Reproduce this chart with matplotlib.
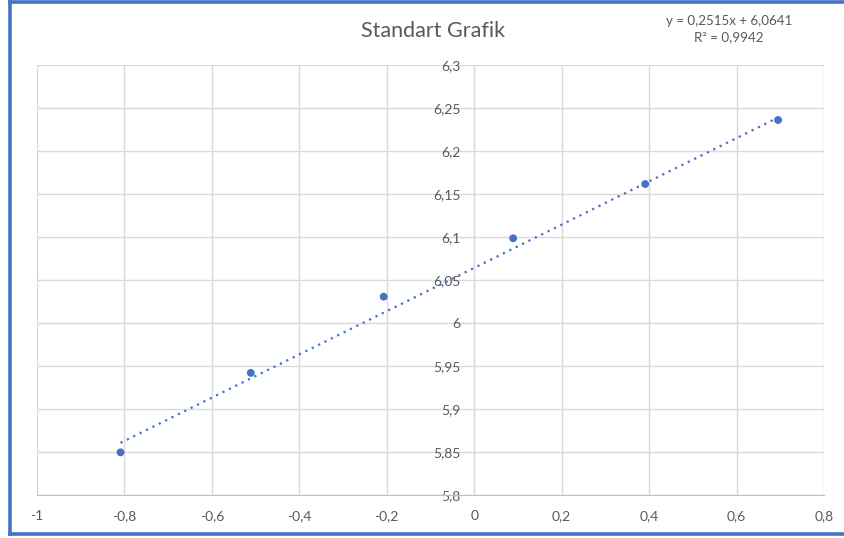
import matplotlib
matplotlib.use("Agg")
import matplotlib.pyplot as plt
import numpy as np
from matplotlib.lines import Line2D

x_vals = [-0.809, -0.511, -0.207, 0.089, 0.391, 0.695]
y_vals = [5.8496, 5.942, 6.0306, 6.0985, 6.1616, 6.236]
trend_slope = 0.2515
trend_intercept = 6.0641
x_ticks = [-1, -0.8, -0.6, -0.4, -0.2, 0, 0.2, 0.4, 0.6, 0.8]
y_ticks = [5.8, 5.85, 5.9, 5.95, 6.0, 6.05, 6.1, 6.15, 6.2, 6.25, 6.3]
title = "Standart Grafik"
eq_text = "y = 0,2515x + 6,0641\nR² = 0,9942"

blue = "#4472C4"
txt = "#595959"
grid = "#D9D9D9"
plt.rcParams['font.family'] = ['Lato', 'DejaVu Sans']

W, H = 844, 538
fig = plt.figure(figsize=(W/100, H/100), dpi=100)
fig.patch.set_facecolor("white")

def fx(p): return p / W
def fy(p): return 1 - p / H

ax = fig.add_axes([fx(37), fy(495), fx(824) - fx(37), fy(65) - fy(495)])
ax.set_xlim(-1, 0.8)
ax.set_ylim(5.8, 6.3)
ax.set_xticks(x_ticks)
ax.set_yticks(y_ticks)
ax.grid(True, color=grid, linewidth=1.0)
ax.set_axisbelow(True)
for s in ['top', 'right']:
    ax.spines[s].set_visible(False)
ax.spines['left'].set_position(('data', 0))
ax.spines['left'].set_color(grid)
ax.spines['bottom'].set_color("#BFBFBF")
ax.tick_params(length=0, colors=txt, labelsize=10)
ax.tick_params(axis='x', pad=11)
ax.tick_params(axis='y', pad=10)

def fmt(v):
    return ("%g" % v).replace(".", ",")
ax.set_xticklabels([fmt(v) for v in x_ticks])
ax.set_yticklabels([fmt(v) for v in y_ticks])

# data
ax.scatter(x_vals, y_vals, s=32, color=blue, zorder=3, edgecolors='none')
# trendline (from displayed equation)
xl = np.array([min(x_vals), max(x_vals)])
ax.plot(xl, trend_slope * xl + trend_intercept, linestyle=(0, (1, 2.2)),
        color=blue, linewidth=1.6, zorder=2)

fig.text(fx(433), fy(31), title, ha='center', va='center', fontsize=15.5, color=txt)
fig.text(fx(729), fy(29), eq_text, ha='center', va='center', fontsize=9.6, color=txt, linespacing=1.45)

# border
lw = 2.6
fig.add_artist(Line2D([fx(10), fx(10)], [fy(2), fy(534)], color=blue, linewidth=lw, transform=fig.transFigure))
fig.add_artist(Line2D([fx(10), 1], [fy(2), fy(2)], color=blue, linewidth=lw, transform=fig.transFigure))
fig.add_artist(Line2D([fx(10), 1], [fy(534), fy(534)], color=blue, linewidth=lw, transform=fig.transFigure))

fig.savefig("out.png", dpi=100, facecolor="white")
